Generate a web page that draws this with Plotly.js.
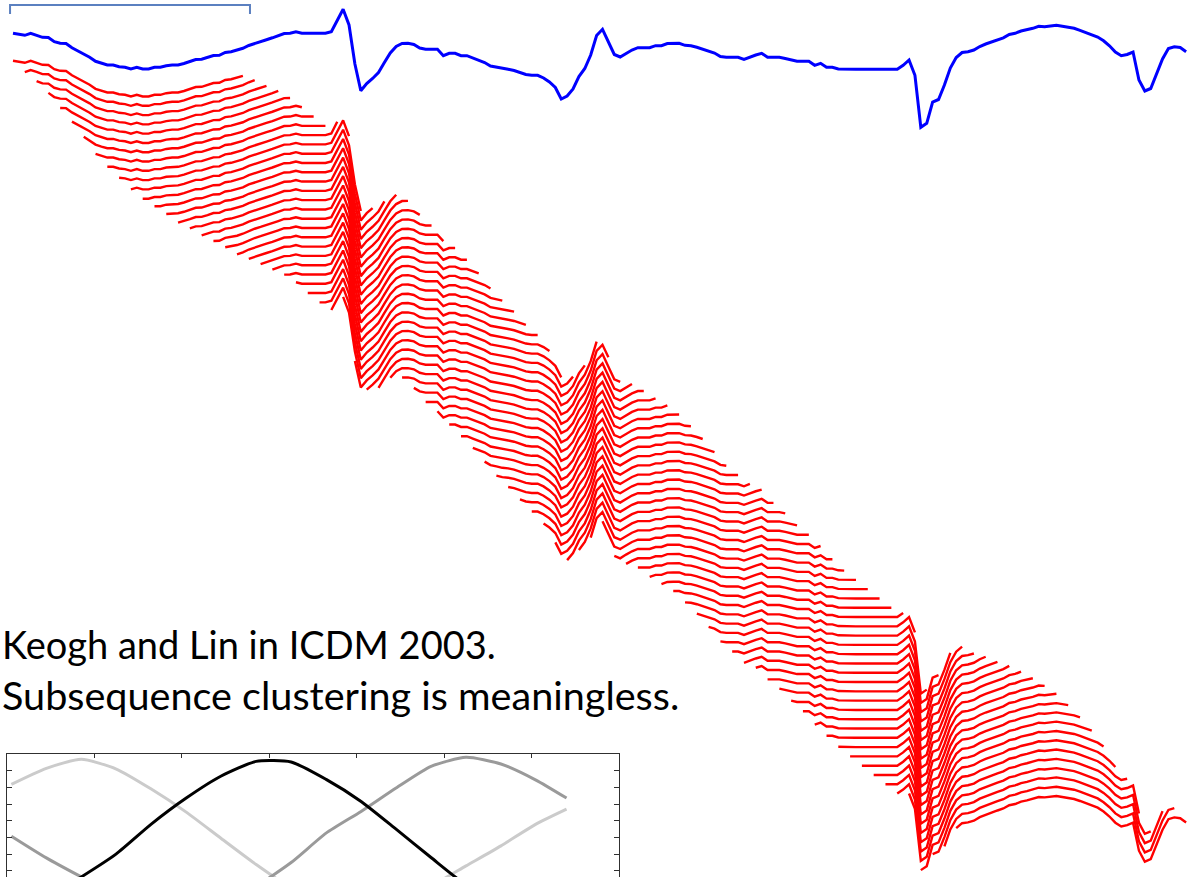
<!DOCTYPE html>
<html>
<head>
<meta charset="utf-8">
<script src="https://cdn.plot.ly/plotly-3.0.1.min.js"></script>
<style>html,body{margin:0;padding:0;background:#fff;overflow:hidden}#chart{width:1187px;height:877px}</style>
</head>
<body>
<div id="chart"></div>
<script>
// ---- Data ----
// Long time series (sample index 0..199), vertical values in picture units (down = larger)
const blueSeries = [
33.3,34,35.3,33.3,35,37.3,37.5,41.7,43.3,43.5,
47.7,51,53.5,57.3,61.3,63.3,65,65,66.7,67.3,
69,67.3,69,69,67.3,67.3,65.7,65,65,63.5,
61.5,59.5,59.3,57.5,55.5,55.3,52.5,51.7,50.3,48.3,
45.5,43.3,41.5,39.7,37.8,35.6,33.5,33.3,31.8,33.3,
33.3,33.3,33.3,33.3,31.7,20,9.3,25,64,90.7,
83.5,78.5,72.5,62.5,53,46.5,43.5,43.3,44.5,48,
49.3,49.3,49.3,55.7,53.3,53.3,55.7,55.7,58,60,
62.5,66,67.3,68.7,69.3,70.5,72.5,74.5,75.3,75.3,
78,82,87.5,99,96,89,76.5,68.5,55,35.5,
29.3,41.8,54.5,57,53.3,50,47.7,47.7,47.7,45.7,
45.7,43.5,43.3,43.3,45.3,45.7,47.2,49.2,51.2,53,
56.5,57.3,57.3,57.3,59.3,57,55,53.3,57.3,57.3,
57.3,58.5,60,61.3,61.3,61.3,65.3,63.3,67.3,67.3,
69,69.3,69.3,69.3,69.3,69.3,69.3,69.3,69.3,69.3,
69.3,65.3,60,75.3,127.3,123.3,102,99.5,85,68,
57.5,52.5,51.7,50,46.5,44,41.8,39.8,37.8,34.5,
33.3,31,29.7,28.3,26.3,26.7,26,25.3,26.3,27.3,
28.3,30.3,32.3,34.3,37,40.8,45.8,52,55.7,54.5,
52,80,91,88.5,74,59,48.5,46.7,47.5,51.7
];
const windowLength = 40;   // samples per subsequence
const windowStep = 2;      // sliding step in samples

// Small inset: three cluster-centre curves
const insetX = [1,9,17,25,33,41,49,57,65,73,81,89,97,105,113,121,128];
const insetLight = [1.09,1.57,1.84,1.55,0.95,0.26,-0.53,-1.31,-2.01,-2.43,-2.61,-2.37,-1.95,-1.35,-0.75,-0.10,0.35];
const insetDark  = [-0.46,-1.11,-1.68,-2.22,-2.52,-2.55,-2.37,-1.95,-1.25,-0.37,0.28,0.98,1.63,1.90,1.70,1.22,0.68];
const insetBlack = [-2.67,-2.31,-1.68,-0.99,-0.10,0.68,1.34,1.78,1.76,1.24,0.58,-0.25,-1.10,-1.92,-2.46,-2.73,-2.73];

const captionLines = ["Keogh and Lin in ICDM 2003.", "Subsequence clustering is meaningless."];

// ---- Build traces ----
const W = 1187, H = 877;
const firstOffset = 27.5, offsetStep = 9.29;
const traces = [];
const idx = blueSeries.map((_, i) => i);

const nWin = Math.floor((blueSeries.length - windowLength) / windowStep) + 1;
for (let w = 0; w < nWin; w++) {
  const s = w * windowStep;
  const xs = idx.slice(s, s + windowLength);
  const off = firstOffset + offsetStep * w;
  const ys = blueSeries.slice(s, s + windowLength).map(v => v + off);
  traces.push({x: xs, y: ys, type: 'scatter', mode: 'lines',
    line: {color: '#ff0000', width: 2.4}, hoverinfo: 'skip', xaxis: 'x', yaxis: 'y'});
}
traces.push({x: idx, y: blueSeries, type: 'scatter', mode: 'lines',
  line: {color: '#0000ff', width: 3}, hoverinfo: 'skip', xaxis: 'x', yaxis: 'y'});

const insetStyles = [[insetLight, '#cbcbcb'], [insetDark, '#9a9a9a'], [insetBlack, '#000000']];
insetStyles.forEach(([ys, c]) => traces.push({x: insetX, y: ys, type: 'scatter', mode: 'lines',
  line: {color: c, width: 3, shape: 'spline', smoothing: 0.6}, hoverinfo: 'skip', xaxis: 'x2', yaxis: 'y2'}));

const px0 = 13, pxStep = 5.895;
const captionSizes = [38, 39.6];
const layout = {
  width: W, height: H,
  margin: {l: 0, r: 0, t: 0, b: 0, pad: 0},
  paper_bgcolor: '#ffffff', plot_bgcolor: 'rgba(0,0,0,0)',
  showlegend: false,
  xaxis: {domain: [0, 1], range: [(0 - px0) / pxStep, (W - px0) / pxStep], visible: false, fixedrange: true},
  yaxis: {domain: [0, 1], range: [H, 0], visible: false, fixedrange: true},
  xaxis2: {domain: [7 / W, 619 / W], range: [0, 140], dtick: 20, tick0: 0, anchor: 'y2', side: 'top',
    showline: true, linecolor: '#303030', linewidth: 1.2, ticks: 'inside', ticklen: 4, tickcolor: '#303030',
    showticklabels: false, showgrid: false, zeroline: false, fixedrange: true},
  yaxis2: {domain: [0, 123 / H], range: [-1.683, 2], dtick: 0.5, tick0: 0, anchor: 'x2',
    showline: true, mirror: 'ticks', linecolor: '#303030', linewidth: 1.2, ticks: 'inside', ticklen: 5, tickcolor: '#303030',
    showticklabels: false, showgrid: false, zeroline: false, fixedrange: true},
  shapes: [{type: 'path', xref: 'x', yref: 'y',
    path: `M ${-0.5},14 L ${-0.5},5 L ${windowLength + 0.2},5 L ${windowLength + 0.2},14`,
    line: {color: '#5b80c0', width: 2}}],
  annotations: captionLines.map((t, k) => ({
    text: t, xref: 'paper', yref: 'paper', x: 0, xanchor: 'left',
    y: 1 - (644 + 50 * k) / H, yanchor: 'middle', showarrow: false,
    font: {family: 'Lato, "Open Sans", sans-serif', size: captionSizes[k], color: '#000000'}
  }))
};
Plotly.newPlot('chart', traces, layout, {staticPlot: true, displayModeBar: false});
</script>
</body>
</html>
